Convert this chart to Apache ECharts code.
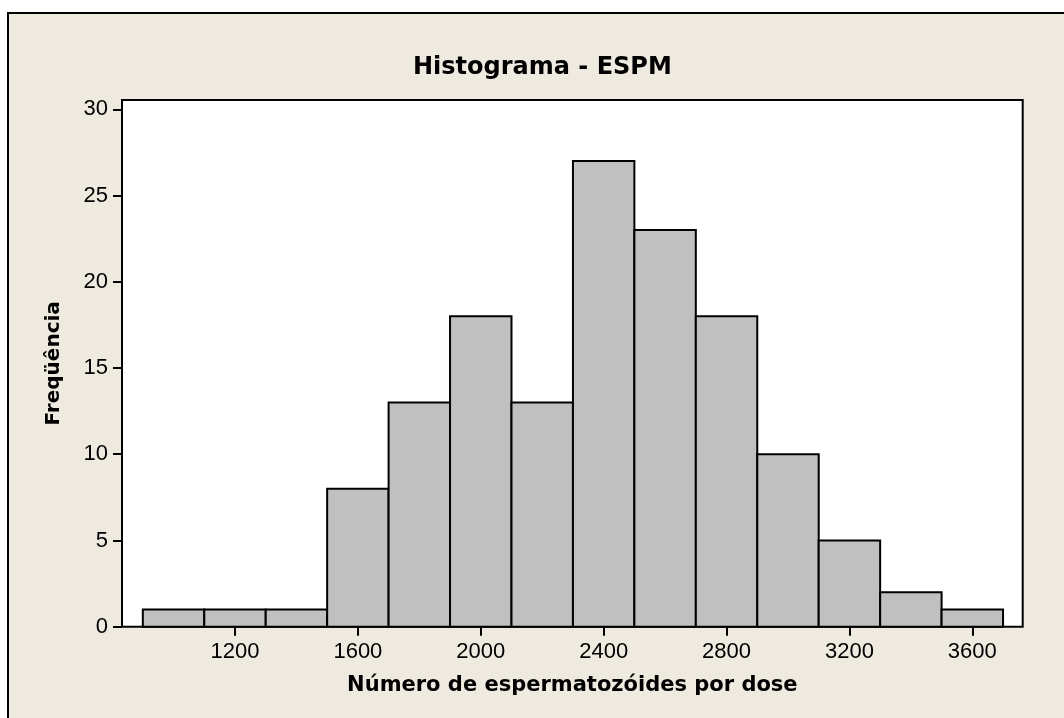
<!DOCTYPE html>
<html>
<head>
<meta charset="utf-8">
<script src="https://cdn.jsdelivr.net/npm/echarts@6/dist/echarts.min.js"></script>
<style>
html,body{margin:0;padding:0;background:#fff;}
#chart{width:1064px;height:718px;}
</style>
</head>
<body>
<div id="chart"></div>
<script>
// Histogram data
const binEdges = [900, 1100, 1300, 1500, 1700, 1900, 2100, 2300, 2500, 2700, 2900, 3100, 3300, 3500, 3700];
const counts   = [1, 1, 1, 8, 13, 18, 13, 27, 23, 18, 10, 5, 2, 1];
const xTickValues = [1200, 1600, 2000, 2400, 2800, 3200, 3600];
const yTickValues = [0, 5, 10, 15, 20, 25, 30];
const titleText = 'Histograma - ESPM';
const xAxisName = 'Número de espermatozóides por dose';
const yAxisName = 'Freqüência';

const barData = counts.map((c, i) => [binEdges[i], binEdges[i + 1], c]);

const FONT = 'DejaVu Sans';
const TICKFONT = 'Liberation Sans';
const chart = echarts.init(document.getElementById('chart'), null, {renderer: 'canvas'});
chart.setOption({
  animation: false,
  backgroundColor: '#ffffff',
  graphic: [{
    type: 'rect',
    z: -100,
    silent: true,
    shape: {x: 8, y: 13, width: 1200, height: 1000},
    style: {fill: '#EEEAE0', stroke: '#000', lineWidth: 2}
  }],
  title: {
    text: titleText,
    left: 408,
    top: 51,
    textStyle: {fontFamily: FONT, fontWeight: 'bold', fontSize: 24, color: '#000'}
  },
  grid: {
    left: 122, top: 100, right: 41.3, bottom: 91.3,
    show: true, backgroundColor: '#ffffff', borderColor: '#000', borderWidth: 2
  },
  xAxis: {
    type: 'value',
    min: 832.2, max: 3764,
    name: xAxisName,
    nameLocation: 'middle',
    nameGap: 48,
    nameTextStyle: {fontFamily: FONT, fontWeight: 'bold', fontSize: 21, color: '#000'},
    axisLine: {show: false},
    splitLine: {show: false},
    axisTick: {show: true, length: 9, inside: false, customValues: xTickValues, lineStyle: {color: '#000', width: 2}},
    axisLabel: {margin: 14, customValues: xTickValues, formatter: v => String(v), fontFamily: TICKFONT, fontSize: 22, color: '#000'}
  },
  yAxis: {
    type: 'value',
    min: 0, max: 30.54,
    name: yAxisName,
    nameLocation: 'middle',
    nameGap: 58,
    nameRotate: 90,
    nameTextStyle: {fontFamily: FONT, fontWeight: 'bold', fontSize: 20, color: '#000'},
    axisLine: {show: false},
    splitLine: {show: false},
    axisTick: {show: true, length: 9, inside: false, customValues: yTickValues, lineStyle: {color: '#000', width: 2}},
    axisLabel: {margin: 14, customValues: yTickValues, formatter: v => String(v), fontFamily: TICKFONT, fontSize: 22, color: '#000'}
  },
  series: [{
    type: 'custom',
    data: barData,
    encode: {x: [0, 1], y: 2},
    renderItem: function (params, api) {
      const lo = api.value(0), hi = api.value(1), c = api.value(2);
      const p0 = api.coord([lo, c]);
      const p1 = api.coord([hi, 0]);
      return {
        type: 'rect',
        shape: {x: p0[0], y: p0[1], width: p1[0] - p0[0], height: p1[1] - p0[1]},
        style: {fill: '#C0C0C0', stroke: '#000', lineWidth: 2}
      };
    }
  }]
});
</script>
</body>
</html>
